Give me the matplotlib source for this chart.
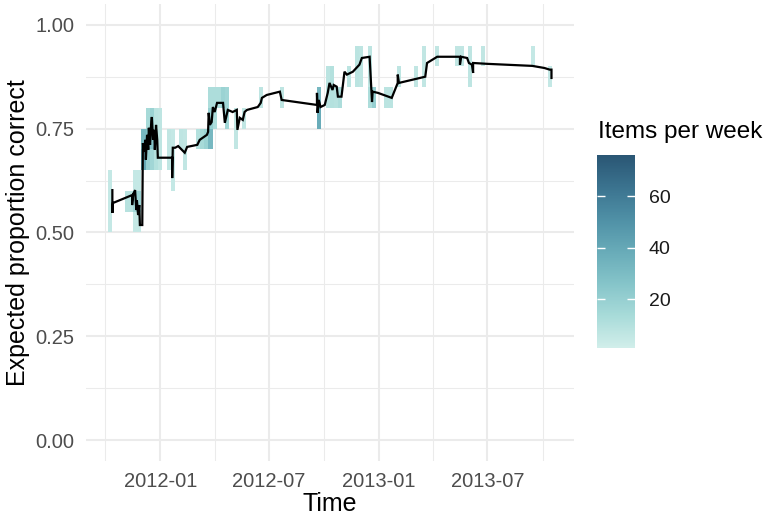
import numpy as np
import pandas as pd
import matplotlib
matplotlib.use("Agg")
import matplotlib.pyplot as plt
import matplotlib.dates as mdates
from matplotlib.colors import LinearSegmentedColormap, Normalize
from matplotlib.colorbar import ColorbarBase

plt.rcParams['font.family'] = ['Liberation Sans', 'DejaVu Sans']

# weekly tiles: week centre, proportion bin, number of items
tile_week = ["2011-10-09", "2011-11-06", "2011-11-13", "2011-11-20", "2011-11-20", "2011-11-20",
             "2011-11-27", "2011-11-27", "2011-11-27", "2011-12-04", "2011-12-04",
             "2011-12-11", "2011-12-11", "2011-12-11", "2011-12-18", "2011-12-18", "2011-12-18",
             "2011-12-25", "2011-12-25", "2012-01-01", "2012-01-15", "2012-01-22",
             "2012-02-05", "2012-02-12", "2012-03-04", "2012-03-11", "2012-03-18",
             "2012-03-25", "2012-03-25", "2012-03-25", "2012-04-01", "2012-04-01", "2012-04-08",
             "2012-04-15", "2012-04-22", "2012-05-06", "2012-05-20", "2012-06-17",
             "2012-07-22", "2012-09-23", "2012-09-23", "2012-10-07", "2012-10-14",
             "2012-10-21", "2012-10-28", "2012-11-11", "2012-11-25", "2012-12-02",
             "2012-12-16", "2012-12-16", "2012-12-23", "2013-01-13", "2013-01-20",
             "2013-02-03", "2013-03-03", "2013-03-17", "2013-04-07", "2013-05-12",
             "2013-05-20", "2013-06-02", "2013-06-23", "2013-09-15", "2013-10-13"]
tile_lo = [0.50, 0.55, 0.55, 0.50, 0.55, 0.60,
           0.50, 0.55, 0.60, 0.65, 0.70,
           0.65, 0.70, 0.75, 0.65, 0.70, 0.75,
           0.65, 0.75, 0.65, 0.65, 0.60,
           0.70, 0.65, 0.70, 0.70, 0.70,
           0.70, 0.75, 0.80, 0.75, 0.80, 0.80,
           0.80, 0.75, 0.70, 0.75, 0.80,
           0.80, 0.80, 0.75, 0.80, 0.80,
           0.80, 0.80, 0.85, 0.85, 0.85,
           0.85, 0.80, 0.80, 0.80, 0.80,
           0.85, 0.85, 0.85, 0.90, 0.90,
           0.90, 0.85, 0.90, 0.90, 0.85]
tile_hi = [0.65, 0.60, 0.60, 0.55, 0.60, 0.65,
           0.55, 0.60, 0.65, 0.70, 0.75,
           0.70, 0.75, 0.80, 0.70, 0.75, 0.80,
           0.75, 0.80, 0.80, 0.75, 0.75,
           0.75, 0.75, 0.75, 0.75, 0.75,
           0.75, 0.80, 0.85, 0.80, 0.85, 0.85,
           0.85, 0.85, 0.80, 0.80, 0.85,
           0.85, 0.85, 0.80, 0.90, 0.90,
           0.85, 0.85, 0.90, 0.95, 0.95,
           0.95, 0.85, 0.85, 0.85, 0.85,
           0.90, 0.90, 0.95, 0.95, 0.95,
           0.95, 0.95, 0.95, 0.95, 0.90]
tile_n = [5, 9, 9, 5, 16, 5,
          5, 18, 5, 40, 32,
          20, 28, 14, 16, 26, 18,
          10, 8, 7, 6, 5,
          7, 6, 10, 14, 18,
          32, 20, 12, 12, 12, 12,
          18, 16, 6, 6, 7,
          7, 32, 38, 8, 10,
          9, 12, 8, 8, 7,
          7, 12, 20, 8, 8,
          7, 6, 6, 6, 6,
          6, 7, 6, 5, 5]
count_range = (1, 76)

# expected proportion correct over time
line_time = ["2011-10-13", "2011-10-13", "2011-10-14", "2011-11-15", "2011-11-15", "2011-11-17",
             "2011-11-20", "2011-11-22", "2011-11-23", "2011-11-25", "2011-11-27", "2011-11-28",
             "2011-12-02", "2011-12-03", "2011-12-05", "2011-12-07", "2011-12-08", "2011-12-10",
             "2011-12-12", "2011-12-13", "2011-12-15", "2011-12-17", "2011-12-18", "2011-12-20",
             "2011-12-22", "2011-12-23", "2011-12-25", "2011-12-27", "2011-12-28", "2012-01-21",
             "2012-01-21", "2012-01-22", "2012-01-26", "2012-01-31", "2012-02-11", "2012-02-15",
             "2012-03-03", "2012-03-07", "2012-03-19", "2012-03-21", "2012-03-22", "2012-03-24",
             "2012-03-27", "2012-03-29", "2012-04-01", "2012-04-05", "2012-04-15", "2012-04-18",
             "2012-04-23", "2012-05-01", "2012-05-08", "2012-05-09", "2012-05-13", "2012-05-18",
             "2012-05-21", "2012-05-25", "2012-06-12", "2012-06-17", "2012-06-19", "2012-06-27",
             "2012-07-19", "2012-07-22", "2012-09-19", "2012-09-19", "2012-09-20", "2012-09-22",
             "2012-09-25", "2012-10-02", "2012-10-07", "2012-10-10", "2012-10-15", "2012-10-17",
             "2012-10-22", "2012-10-24", "2012-10-30", "2012-11-04", "2012-11-08", "2012-11-18",
             "2012-11-29", "2012-12-03", "2012-12-16", "2012-12-20", "2012-12-21", "2012-12-30",
             "2013-01-22", "2013-02-01", "2013-02-01", "2013-02-03", "2013-03-19", "2013-03-22",
             "2013-04-08", "2013-05-16", "2013-05-16", "2013-05-18", "2013-05-28", "2013-05-31",
             "2013-06-05", "2013-06-07", "2013-06-07", "2013-06-30", "2013-09-14", "2013-10-04",
             "2013-10-13", "2013-10-16", "2013-10-16"]
line_value = [0.602, 0.547, 0.571, 0.590, 0.566, 0.593,
              0.602, 0.554, 0.578, 0.542, 0.566, 0.518,
              0.518, 0.715, 0.694, 0.723, 0.675, 0.735,
              0.699, 0.752, 0.711, 0.766, 0.778, 0.723,
              0.747, 0.699, 0.759, 0.723, 0.680, 0.680,
              0.631, 0.704, 0.704, 0.708, 0.692, 0.706,
              0.711, 0.723, 0.735, 0.742, 0.788, 0.759,
              0.766, 0.802, 0.790, 0.812, 0.812, 0.764,
              0.795, 0.790, 0.795, 0.747, 0.776, 0.771,
              0.790, 0.795, 0.802, 0.812, 0.824, 0.831,
              0.839, 0.819, 0.807, 0.836, 0.788, 0.819,
              0.802, 0.807, 0.836, 0.860, 0.843, 0.855,
              0.851, 0.827, 0.827, 0.887, 0.880, 0.887,
              0.904, 0.920, 0.923, 0.814, 0.839, 0.836,
              0.824, 0.860, 0.880, 0.860, 0.875, 0.908,
              0.923, 0.923, 0.904, 0.923, 0.920, 0.908,
              0.904, 0.884, 0.908, 0.906, 0.901, 0.896,
              0.892, 0.892, 0.872]

y_ticks = [0.00, 0.25, 0.50, 0.75, 1.00]
x_ticks = ["2012-01-01", "2012-07-01", "2013-01-01", "2013-07-01"]
x_minor = ["2011-10-01", "2012-04-01", "2012-10-01", "2013-04-01", "2013-10-01"]
legend_ticks = [20, 40, 60]

teal = ["#d1eeea", "#a8dbd9", "#85c4c9", "#68abb8", "#4f90a6", "#3b738f", "#2a5674"]
cmap = LinearSegmentedColormap.from_list("teal", teal)
norm = Normalize(*count_range)

fig = plt.figure(figsize=(7.65, 5.19), dpi=100)
ax = fig.add_axes([0.112, 0.1118, 0.6383, 0.8805])

tx = mdates.date2num(pd.to_datetime(tile_week))
lo = np.array(tile_lo)
hi = np.array(tile_hi)
n = np.array(tile_n)
order = np.argsort(n)
ax.bar(tx[order], (hi - lo)[order], bottom=lo[order], width=7, align="center",
       color=cmap(norm(n[order])), linewidth=0, zorder=2)

lx = mdates.date2num(pd.to_datetime(line_time))
ax.plot(lx, line_value, color="black", lw=1.6, solid_joinstyle="miter", zorder=3)

# ggplot style limits: 5% expansion of the data range
xmin, xmax = tx.min() - 3.5, tx.max() + 3.5
pad = 0.05 * (xmax - xmin)
ax.set_xlim(xmin - pad, xmax + pad)
ax.set_ylim(-0.05, 1.05)

major_x = mdates.date2num(pd.to_datetime(x_ticks))
minor_x = mdates.date2num(pd.to_datetime(x_minor))
ax.set_xticks(major_x)
ax.set_xticklabels(pd.to_datetime(x_ticks).strftime("%Y-%m"))
ax.set_xticks(minor_x, minor=True)
ax.set_yticks(y_ticks)
ax.set_yticklabels([f"{v:.2f}" for v in y_ticks])
ax.set_yticks([0.125, 0.375, 0.625, 0.875], minor=True)

ax.grid(which="major", color="#ebebeb", lw=1.5, zorder=0)
ax.grid(which="minor", color="#ebebeb", lw=0.75, zorder=0)
ax.set_axisbelow(True)
for s in ax.spines.values():
    s.set_visible(False)
ax.tick_params(which="both", length=0, labelsize=14.5, labelcolor="#4d4d4d", pad=8)

ax.set_xlabel("Time", fontsize=18, color="black", labelpad=1)
ax.set_ylabel("Expected proportion correct", fontsize=18, color="black", labelpad=4)

# colourbar legend
cax = fig.add_axes([0.7804, 0.3295, 0.0497, 0.3719])
cb = ColorbarBase(cax, cmap=cmap, norm=norm, orientation="vertical")
cb.outline.set_visible(False)
cb.set_ticks(legend_ticks)
cax.tick_params(direction="in", left=True, right=True, length=6, width=1,
                color="white", labelcolor="#1a1a1a", labelsize=14, pad=10)
fig.text(0.7817, 0.7457, "Items per week", fontsize=17.5, ha="left", va="center")

fig.savefig("out.png", dpi=100)
